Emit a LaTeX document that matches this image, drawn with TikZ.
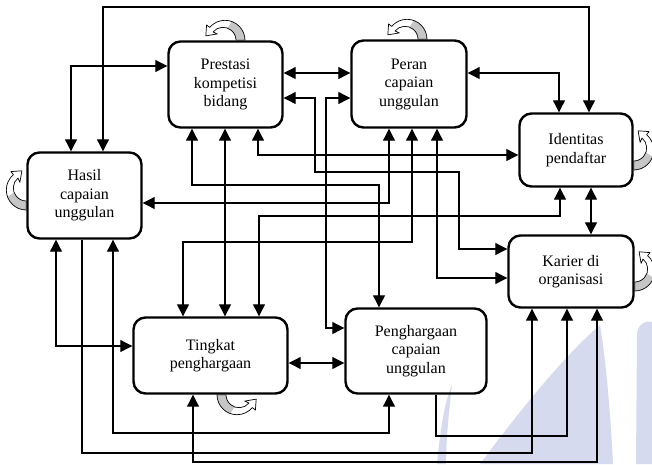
\documentclass[tikz,border=0pt]{standalone}
\usepackage{fontspec}
\setmainfont{Liberation Serif}
\usetikzlibrary{arrows.meta}

\definecolor{watermarkblue}{RGB}{214,218,238}

\tikzset{
	box/.style={draw, line width=2.4pt, rounded corners=12pt, align=center, inner sep=0pt,
		font=\fontsize{16}{18.5}\selectfont},
	link/.style={line width=1.1pt},
	>={Triangle[length=12pt,width=12pt]},
	selfloop/.pic={
		\begin{scope}[y=1pt]
			\fill[white] (20,0) arc[start angle=0,end angle=140,radius=20] -- (-18.4,15.4) -- (-19.2,4.4)
				-- (-7.7,6.4) -- (-11.96,8.36) arc[start angle=140,end angle=0,radius=13] -- cycle;
			\fill[gray!45] (20,0) arc[start angle=0,end angle=70,radius=20] -- (2.45,12.22)
				arc[start angle=70,end angle=0,radius=13] -- cycle;
			\draw[line width=0.7pt, line join=round] (20,0) arc[start angle=0,end angle=140,radius=20] -- (-18.4,15.4) -- (-19.2,4.4)
				-- (-7.7,6.4) -- (-11.96,8.36) arc[start angle=140,end angle=0,radius=13] -- cycle;
		\end{scope}
	}
}

\begin{document}
\begin{tikzpicture}[x=1pt, y=-1pt]
	\useasboundingbox (0,0) rectangle (652,464);

	\fill[watermarkblue] (437,464) .. controls (440,430) and (445,400) .. (452,385)
		.. controls (449,410) and (446,440) .. (446,464) -- cycle;
	\fill[watermarkblue] (480,464) .. controls (520,410) and (565,355) .. (600,325)
		.. controls (606,360) and (611,420) .. (613,464) -- cycle;
	\fill[watermarkblue] (636,464) -- (637,335) .. controls (637,325) and (645,320) .. (652,322) -- (652,464) -- cycle;

	\node[box, minimum width=114pt, minimum height=86pt] (hasil) at (84.5,195.5) {Hasil\\capaian\\unggulan};
	\node[box, minimum width=114pt, minimum height=86pt] (prestasi) at (225.5,84.5) {Prestasi\\kompetisi\\bidang};
	\node[box, minimum width=115pt, minimum height=87pt] (peran) at (409,84) {Peran\\capaian\\unggulan};
	\node[box, minimum width=113pt, minimum height=73pt] (identitas) at (576,150) {Identitas\\pendaftar};
	\node[box, minimum width=125pt, minimum height=72pt] (karier) at (571,271.5) {Karier di\\organisasi};
	\node[box, minimum width=141pt, minimum height=85pt] (penghargaan) at (416,351) {Penghargaan\\capaian\\unggulan};
	\node[box, minimum width=154pt, minimum height=76pt] (tingkat) at (210.5,355.5) {Tingkat\\penghargaan};

	\pic at (prestasi.north -| 225,0) {selfloop};
	\pic at (peran.north -| 407,0) {selfloop};
	\pic[rotate=-90] at (identitas.east |- 0,150) {selfloop};
	\pic[rotate=-90] at (karier.east |- 0,271) {selfloop};
	\pic[xscale=-1, rotate=-90] at (hasil.west |- 0,190) {selfloop};
	\pic[rotate=180] at (tingkat.south -| 237,0) {selfloop};

	\draw[link,<->] (hasil.north -| 103,0) -- (103,7) -- (589,7) -- (identitas.north -| 589,0);
	\draw[link,<->] (hasil.north -| 71,0) |- (prestasi.west |- 0,66);
	\draw[link,<->] (prestasi.east |- 0,73) -- (peran.west |- 0,73);
	\draw[link,<->] (prestasi.east |- 0,98) -| (315,172) -| (459,249) -- (karier.west |- 0,249);
	\draw[link,<->] (peran.west |- 0,98) -| (326,328) -- (penghargaan.west |- 0,328);
	\draw[link,<->] (peran.east |- 0,73) -| (identitas.north -| 559,0);
	\draw[link,<->] (identitas.south -| 591,0) -- (karier.north -| 591,0);
	\draw[link,<->] (prestasi.south -| 192,0) |- (379,185) -- (penghargaan.north -| 379,0);
	\draw[link,<->] (prestasi.south -| 225,0) -- (tingkat.north -| 225,0);
	\draw[link,<->] (prestasi.south -| 258,0) |- (identitas.west |- 0,155);
	\draw[link,<->] (hasil.east |- 0,203) -| (peran.south -| 389,0);
	\draw[link,<->] (tingkat.north -| 259,0) |- (560,216) -- (identitas.south -| 560,0);
	\draw[link,<->] (tingkat.north -| 183,0) |- (412,242) -- (peran.south -| 412,0);
	\draw[link,<->] (peran.south -| 437,0) |- (karier.west |- 0,278);
	\draw[link,<->] (hasil.south -| 56,0) |- (tingkat.west |- 0,346);
	\draw[link,<->] (tingkat.east |- 0,363) -- (penghargaan.west |- 0,363);
	\draw[link,<->] (hasil.south -| 113,0) |- (389,433) -- (penghargaan.south -| 389,0);
	\draw[link,->] (hasil.south -| 82,0) |- (532,453) -- (karier.south -| 532,0);
	\draw[link,->] (penghargaan.south -| 436,0) |- (567,436) -- (karier.south -| 567,0);
	\draw[link,<->] (tingkat.south -| 193,0) |- (597,462) -- (karier.south -| 597,0);
\end{tikzpicture}
\end{document}
